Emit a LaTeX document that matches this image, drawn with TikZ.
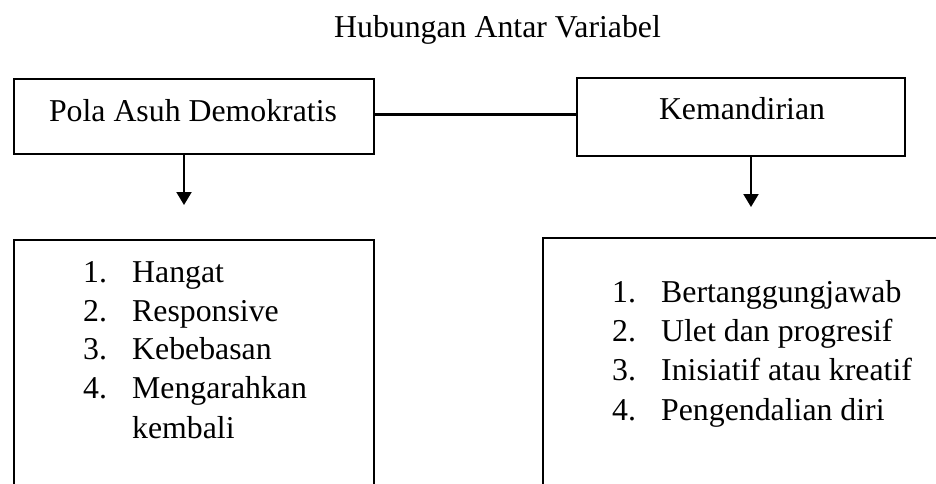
\documentclass[tikz,border=0pt]{standalone}
\usepackage{fontspec}
\setmainfont{Liberation Serif}
\usetikzlibrary{arrows.meta}
\begin{document}
\begin{tikzpicture}[x=1pt,y=-1pt,
  bigfont/.style={font=\fontsize{31.8pt}{38pt}\selectfont},
  item/.style={bigfont, inner sep=0pt, anchor=base west},
  ctxt/.style={bigfont, inner sep=0pt, anchor=base},
  box/.style={draw, line width=2pt, rectangle, inner sep=0pt},
  arr/.style={line width=2pt, -{Triangle[width=15pt,length=13pt]}},
  link/.style={line width=3pt},
]
\useasboundingbox (0,0) rectangle (936,483);
\fill[white] (0,0) rectangle (936,483);

% title
\node[ctxt] (title) at (497.5,37) {Hubungan Antar Variabel};

% top boxes
\node[box, minimum width=360pt, minimum height=75pt] (b1) at (194,116.5) {};
\node[box, minimum width=328pt, minimum height=78pt] (b2) at (741,117) {};
\node[ctxt] (t1) at (193,121) {Pola Asuh Demokratis};
\node[ctxt] (t2) at (742,119) {Kemandirian};

% bottom boxes (open at the bottom / right, cut by the page)
\node[box, minimum width=360pt, minimum height=280pt] (b3) at (194,380) {};
\node[box, minimum width=437pt, minimum height=282pt] (b4) at (761.5,379) {};

% connectors
\draw[link] ([yshift=2.5pt]b1.east) -- ([yshift=3pt]b2.west);
\coordinate (a1) at (184,205);
\coordinate (a2) at (751,207);
\draw[arr] (b1.south -| a1) -- (a1);
\draw[arr] (b2.south -| a2) -- (a2);

% left list
\node[item] (l1) at (83,282) {\makebox[49pt][l]{1.}Hangat};
\node[item] (l2) at (83,321) {\makebox[49pt][l]{2.}Responsive};
\node[item] (l3) at (83,359) {\makebox[49pt][l]{3.}Kebebasan};
\node[item] (l4) at (83,398) {\makebox[49pt][l]{4.}Mengarahkan};
\node[item] (l5) at (132,438) {kembali};

% right list
\node[item] (r1) at (612,302) {\makebox[49pt][l]{1.}Bertanggungjawab};
\node[item] (r2) at (612,341) {\makebox[49pt][l]{2.}Ulet dan progresif};
\node[item] (r3) at (612,380) {\makebox[49pt][l]{3.}Inisiatif atau kreatif};
\node[item] (r4) at (612,420) {\makebox[49pt][l]{4.}Pengendalian diri};
\end{tikzpicture}
\end{document}
